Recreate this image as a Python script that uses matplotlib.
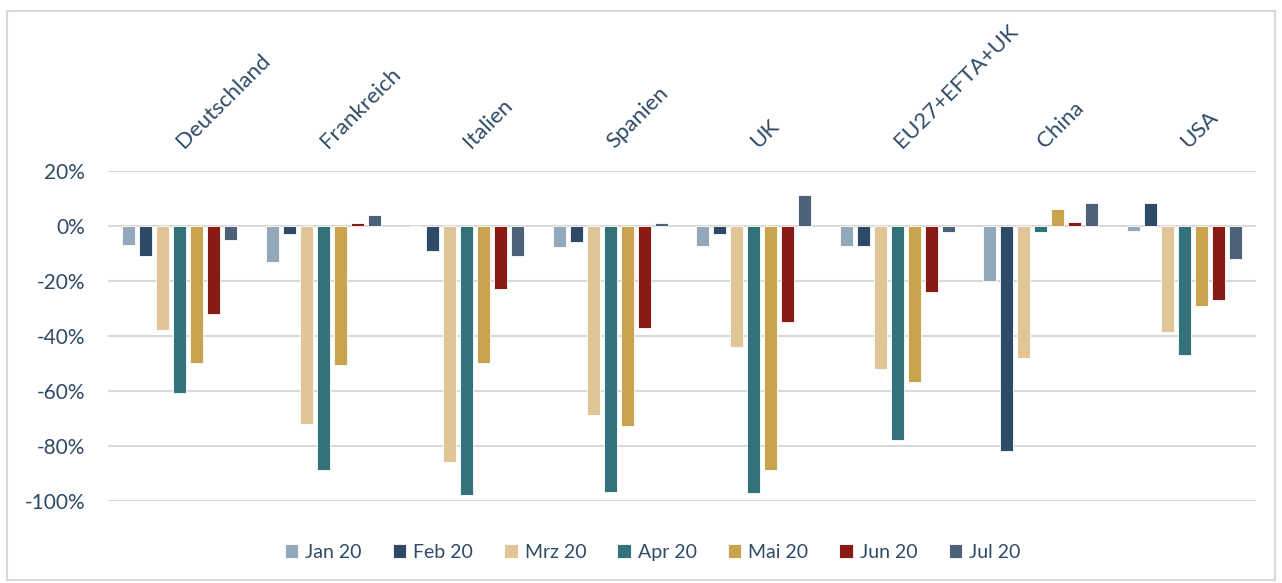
import matplotlib
matplotlib.use("Agg")
import matplotlib.pyplot as plt
from matplotlib.patches import Rectangle
from matplotlib.ticker import FuncFormatter
import numpy as np

plt.rcParams['font.family'] = ['Lato', 'DejaVu Sans']

categories = ["Deutschland", "Frankreich", "Italien", "Spanien", "UK",
              "EU27+EFTA+UK", "China", "USA"]
series_names = ["Jan 20", "Feb 20", "Mrz 20", "Apr 20", "Mai 20", "Jun 20", "Jul 20"]
colors = ["#94A8BC", "#2E4A66", "#E1C597", "#33727B", "#C9A44F", "#8A1A14", "#4D6279"]

jan = [-7, -13, 0, -7.5, -7.3, -7.4, -20, -2]
feb = [-11, -3, -9, -6, -3, -7.2, -82, 8.4]
mrz = [-38, -72, -86, -69, -44, -52, -48, -38.5]
apr = [-61, -89, -98, -97, -97.4, -78, -2.3, -47]
mai = [-50, -50.5, -50, -73, -89, -57, 6.3, -29]
jun = [-32, 1.1, -23, -37, -35, -24, 1.5, -27]
jul = [-5.3, 3.8, -11, 1, 11.2, -2.2, 8.5, -12]
series = [jan, feb, mrz, apr, mai, jun, jul]

text_color = "#2E4A66"

fig = plt.figure(figsize=(12.82, 5.83), dpi=100)
ax = fig.add_axes([0.0842, 0.1415, 0.8955, 0.5652])

x = np.arange(len(categories))
step = 0.1185
width = 0.0906
for i, (name, vals, c) in enumerate(zip(series_names, series, colors)):
    offs = (i - 3) * step
    ax.bar(x + offs, vals, width=width, color=c, label=name,
           edgecolor="white", linewidth=0.6, zorder=3)

ax.set_xlim(-0.5, len(categories) - 0.5)
ax.set_ylim(-100, 20)
ax.set_yticks(np.arange(-100, 21, 20))
ax.yaxis.set_major_formatter(FuncFormatter(lambda v, p: f"{int(v)}%"))
ax.tick_params(axis='y', length=0, pad=16.5, labelsize=15, labelcolor=text_color)
ax.set_xticks([])
ax.grid(axis='y', color="#D9D9D9", linewidth=1.5, zorder=0)
for s in ax.spines.values():
    s.set_visible(False)

for xi, cat in zip(x, categories):
    ax.text(xi + 0.03, 1.067, cat, transform=ax.get_xaxis_transform(),
            rotation=45, rotation_mode='anchor', ha='left', va='baseline',
            fontsize=16, color=text_color)

leg = fig.legend(loc='center', bbox_to_anchor=(0.509, 0.053), ncol=7, frameon=False,
                 fontsize=14, handlelength=0.7, handleheight=0.7,
                 handletextpad=0.35, columnspacing=1.6)
for t in leg.get_texts():
    t.set_color(text_color)

fig.patches.append(Rectangle((7 / 1282, 0.005), 1 - 14 / 1282, 1 - 10.5 / 583 - 0.005,
                             transform=fig.transFigure, fill=False,
                             edgecolor="#D9D9D9", linewidth=1.5))

fig.savefig("out.png", dpi=100)
